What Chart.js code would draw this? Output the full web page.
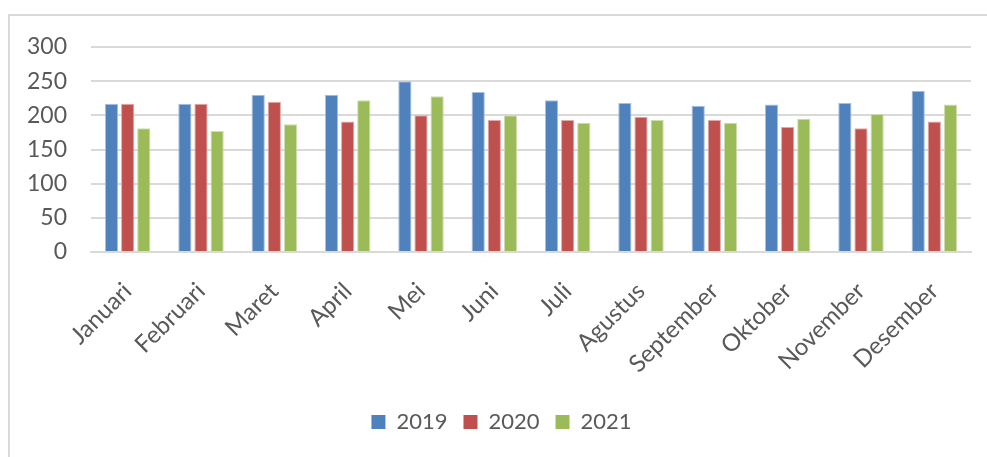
<!DOCTYPE html>
<html>
<head>
<meta charset="utf-8">
<script src="https://cdn.jsdelivr.net/npm/chart.js@4/dist/chart.umd.min.js"></script>
<style>
  body { margin: 0; background: #fff; overflow: hidden; }
  #frame { position: absolute; left: 8px; top: 14px; width: 1200px; height: 600px;
           border-left: 2px solid #d9d9d9; border-top: 2px solid #d9d9d9; }
  #myChart { position: absolute; left: 0; top: 0; }
</style>
</head>
<body>
<div id="frame"></div>
<canvas id="myChart" width="987" height="457"></canvas>
<script>
// data
const bulan = ['Januari', 'Februari', 'Maret', 'April', 'Mei', 'Juni', 'Juli',
  'Agustus', 'September', 'Oktober', 'November', 'Desember'];
const tahun = ['2019', '2020', '2021'];
const nilai2019 = [217, 217, 230, 230, 250, 234, 222, 218, 214, 216, 218, 236];
const nilai2020 = [217, 217, 220, 191, 200, 193, 193, 198, 193, 183, 181, 191];
const nilai2021 = [181, 177, 187, 222, 228, 200, 189, 193, 189, 195, 202, 216];
const yTicks = [0, 50, 100, 150, 200, 250, 300];

const warna = ['#4f81bd', '#c0504d', '#9bbb59'];
const tepi = ['#a7c0de', '#e0a8a6', '#cddcac'];
const teks = '#595959';
const huruf = 'Lato, "Open Sans", sans-serif';

// geser legenda sedikit ke kanan seperti di gambar asli
const geserLegenda = {
  id: 'geserLegenda',
  afterUpdate(chart) {
    chart.legend.left += 16;
    chart.legend.right += 16;
  },
};

const ctx = document.getElementById('myChart');

const myChart = new Chart(ctx, {
  type: 'bar',
  data: {
    labels: bulan,
    datasets: [nilai2019, nilai2020, nilai2021].map((d, i) => ({
      label: tahun[i],
      data: d,
      backgroundColor: warna[i],
      borderColor: tepi[i],
      borderWidth: 1,
      categoryPercentage: 0.66,
      barPercentage: 0.82,
    })),
  },
  plugins: [geserLegenda],
  options: {
    responsive: false,
    animation: false,
    layout: { padding: { top: 47, right: 16, left: 0, bottom: 14 } },
    plugins: {
      tooltip: { enabled: false },
      legend: {
        position: 'bottom',
        labels: {
          color: teks,
          font: { family: huruf, size: 22 },
          boxWidth: 14,
          boxHeight: 14,
          padding: 16,
          generateLabels: (chart) => chart.data.datasets.map((ds, i) => ({
            text: ds.label,
            fillStyle: warna[i],
            strokeStyle: warna[i],
            lineWidth: 0,
            fontColor: teks,
            datasetIndex: i,
          })),
        },
      },
    },
    scales: {
      x: {
        grid: { display: false },
        border: { display: true, color: '#d9d9d9', width: 2 },
        ticks: {
          color: teks,
          font: { family: huruf, size: 24 },
          minRotation: 45,
          maxRotation: 45,
          autoSkip: false,
          padding: 17,
        },
        afterFit: (scale) => { scale.height = 143; },
      },
      y: {
        min: 0,
        max: 300,
        afterBuildTicks: (scale) => { scale.ticks = yTicks.map(v => ({ value: v })); },
        grid: { color: '#d9d9d9', lineWidth: 2, drawTicks: false },
        border: { display: false },
        ticks: {
          color: teks,
          font: { family: huruf, size: 23 },
          padding: 24,
        },
        afterFit: (scale) => { scale.width = 91; },
      },
    },
  },
});
</script>
</body>
</html>
